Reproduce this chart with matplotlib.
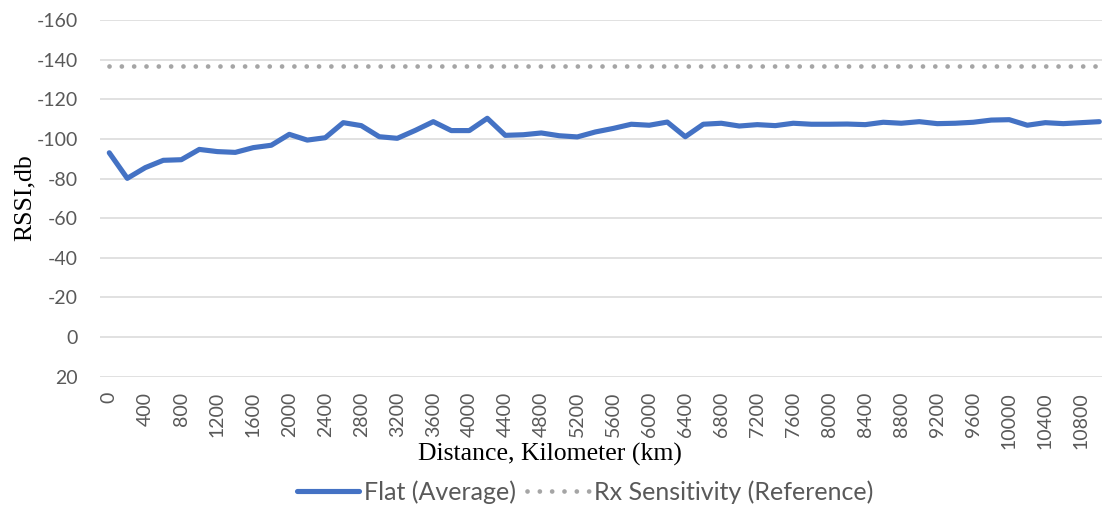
import matplotlib.pyplot as plt

# category axis: distance in km, one point every 200 km
distance = list(range(0, 11200, 200))

# averaged RSSI (dB)
rssi_flat = [-93.0, -80.1, -85.5, -89.2, -89.5, -94.7, -93.6, -93.2, -95.6, -96.8,
             -102.3, -99.4, -100.6, -108.2, -106.7, -101.1, -100.3, -104.3, -108.7, -104.2,
             -104.2, -110.4, -101.8, -102.1, -103.0, -101.6, -101.0, -103.5, -105.3, -107.4,
             -106.9, -108.5, -101.1, -107.4, -107.9, -106.5, -107.2, -106.7, -107.9, -107.4,
             -107.4, -107.5, -107.2, -108.4, -107.9, -108.7, -107.7, -107.9, -108.4, -109.5,
             -109.7, -106.9, -108.2, -107.7, -108.2, -108.7]

rx_sensitivity = [-137] * len(distance)

y_ticks = [-160, -140, -120, -100, -80, -60, -40, -20, 0, 20]


def main():
    plt.rcParams['axes.unicode_minus'] = False
    plt.rcParams['font.family'] = ['Lato', 'DejaVu Sans']
    grey = '#595959'

    fig = plt.figure(figsize=(11.02, 5.09), dpi=100)
    ax = fig.add_axes([0.0910, 0.2599, 0.9147, 0.7008])

    idx = list(range(len(distance)))
    flat, = ax.plot(idx, rssi_flat, color='#4472C4', lw=3.7,
                    solid_joinstyle='round', solid_capstyle='round', zorder=3)
    ref, = ax.plot(idx, rx_sensitivity, color='#A5A5A5', lw=3.4,
                   linestyle=(0, (0.01, 2.6)), dash_capstyle='round', zorder=2)

    ax.set_xlim(-0.5, len(distance) - 0.5)
    ax.set_ylim(20, -160)
    ax.set_yticks(y_ticks)
    ax.set_yticklabels([str(v) for v in y_ticks])
    ax.set_xticks(idx[::2])
    ax.set_xticklabels([str(d) for d in distance[::2]], rotation=90)

    ax.grid(axis='y', color='#D9D9D9', lw=1.1)
    ax.set_axisbelow(True)
    for s in ax.spines.values():
        s.set_visible(False)
    ax.tick_params(axis='y', length=0, pad=16, labelsize=14, labelcolor=grey)
    ax.tick_params(axis='x', length=0, pad=11, labelsize=14, labelcolor=grey)
    for lab in ax.get_xticklabels():
        lab.set_verticalalignment('top')

    fig.text(0.0227, 1 - 198 / 509, 'RSSI,db', rotation=90, ha='center', va='center',
             family='Liberation Serif', fontsize=18.5, color='black')
    fig.text(550 / 1102, 1 - 454 / 509, 'Distance, Kilometer (km)', ha='center', va='center',
             family='Liberation Serif', fontsize=18.5, color='black')

    fig.legend((flat, ref), ('Flat (Average)', 'Rx Sensitivity (Reference)'),
               loc='center', bbox_to_anchor=(0.5313, 1 - 492 / 509), ncol=2,
               frameon=False, fontsize=18, labelcolor=grey,
               handlelength=2.45, handletextpad=0.22, columnspacing=0.45)

    fig.savefig('out.png', dpi=100)


if __name__ == "__main__":
    main()
